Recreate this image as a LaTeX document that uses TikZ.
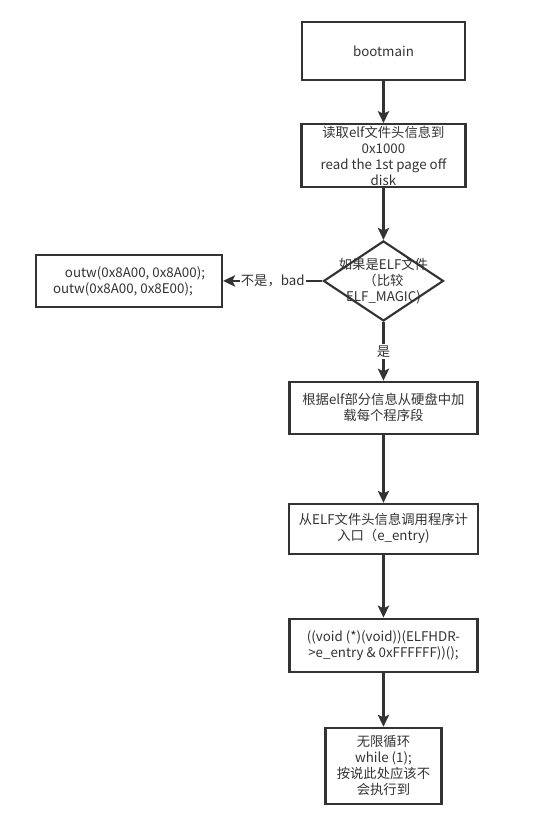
\documentclass[tikz,border=0pt]{standalone}
\usepackage{fontspec}
\setmainfont{Noto Sans CJK SC}
\usetikzlibrary{arrows.meta,positioning,shapes.geometric}
\definecolor{ink}{HTML}{333333}

\begin{document}
\begin{tikzpicture}[>={Stealth[length=9pt,width=8.5pt,inset=2pt]},
  font=\fontsize{10}{12}\selectfont,text=ink,
  box/.style={draw=ink,line width=1.6pt,align=center,inner sep=0pt},
  flow/.style={->,draw=ink,line width=1.6pt},
  tag/.style={fill=white,inner sep=1pt}]
  \useasboundingbox (0,0) rectangle (415.5pt,-619.5pt);
  \node[box,minimum width=122pt,minimum height=43.5pt] (boot) at (287.6pt,-38.25pt) {bootmain};
  \node[box,minimum width=123pt,minimum height=47pt,below=31.5pt of boot] (readhdr) {读取elf文件头信息到\\
  0x1000\\
  read the 1st page off\\
  disk};
  \node[draw=ink,line width=1.6pt,diamond,minimum width=90pt,minimum height=60pt,inner sep=0pt,below=39pt of readhdr] (iself) {};
  \node[align=center] (iselftext) at (iself) {如果是ELF文件\\
  （比较\\
  ELF\_MAGIC)};
  \node[box,align=left,minimum width=139.5pt,minimum height=39pt,left=74.5pt of iself] (badelf) {\hspace*{9pt}outw(0x8A00, 0x8A00);\\
  outw(0x8A00, 0x8E00);};
  \node[box,minimum width=141pt,minimum height=39pt,below=44pt of iself] (loadseg) {根据elf部分信息从硬盘中加\\
  载每个程序段};
  \node[box,minimum width=141.75pt,minimum height=37.5pt,below=51pt of loadseg] (entry) {从ELF文件头信息调用程序计\\
  入口（e\_entry)};
  \node[box,minimum width=141pt,minimum height=39.75pt,below=47pt of entry] (callentry) {((void (*)(void))(ELFHDR-\\
  >e\_entry \& 0xFFFFFF))();};
  \node[box,minimum width=87pt,minimum height=57pt,below=40.5pt of callentry] (spin) {无限循环\\
  while (1);\\
  按说此处应该不\\
  会执行到};
  \draw[flow] (boot) -- (readhdr);
  \draw[flow] (readhdr) -- (iself);
  \draw[flow] (iself) -- node[tag] {不是，bad} (badelf);
  \draw[flow] (iself) -- node[tag] {是} (loadseg);
  \draw[flow] (loadseg) -- (entry);
  \draw[flow] (entry) -- (callentry);
  \draw[flow] (callentry) -- (spin);
\end{tikzpicture}
\end{document}
